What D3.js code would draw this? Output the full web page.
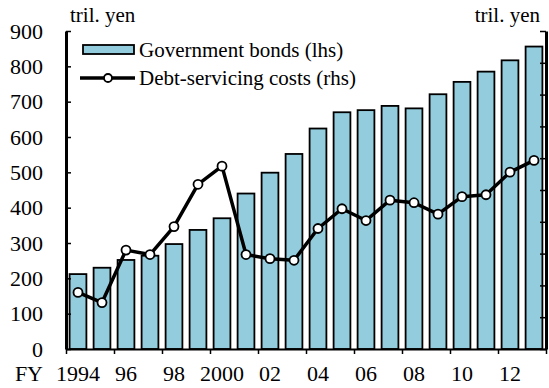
<!DOCTYPE html>
<html>
<head>
<meta charset="utf-8">
<script src="https://cdn.jsdelivr.net/npm/d3@7"></script>
<style>
  body { margin: 0; background: #fff; }
  svg { display: block; }
  text { font-family: "Liberation Serif", "Times New Roman", serif; fill: #000; }
</style>
</head>
<body>
<svg width="549" height="388"></svg>
<script>
// fiscal years
const years = [1994,1995,1996,1997,1998,1999,2000,2001,2002,2003,2004,2005,2006,2007,2008,2009,2010,2011,2012,2013];
// government bonds outstanding, tril. yen (lhs)
const bonds = [212,230,252,264,297,337,370,440,499,552,624,670,676,688,681,721,756,785,817,856];
// debt-servicing costs (rhs, scale labels not shown in the picture)
const debtCosts = [1.78,1.46,3.11,2.97,3.85,5.18,5.75,2.97,2.84,2.79,3.79,4.41,4.04,4.68,4.60,4.24,4.79,4.85,5.56,5.93];
const labelYears = [1994,1996,1998,2000,2002,2004,2006,2008,2010,2012];
const labelText = ["1994","96","98","2000","02","04","06","08","10","12"];
const leftTicks = [0,100,200,300,400,500,600,700,800,900];
const rightTicks = [0,1,2,3,4,5,6,7,8,9,10];

const svg = d3.select("svg");
const plotL = 66, plotR = 546, plotT = 31, plotB = 349;

const x = d3.scaleBand().domain(years).range([plotL, plotR]).paddingInner(0.3).paddingOuter(0.15);
const xi = d3.scaleLinear().domain([0, years.length]).range([plotL, plotR]);
const y = d3.scaleLinear().domain([0, 900]).range([plotB, plotT]);
const y2 = d3.scaleLinear().domain([0, 10]).range([plotB, plotT]);

// bars
svg.append("g").selectAll("rect")
  .data(years)
  .enter().append("rect")
  .attr("x", d => x(d))
  .attr("y", (d, i) => y(bonds[i]))
  .attr("width", x.bandwidth())
  .attr("height", (d, i) => plotB - y(bonds[i]))
  .attr("fill", "#93cddd")
  .attr("stroke", "#000")
  .attr("stroke-width", 1.8);

// x axis, ticks between every second year
const gx = svg.append("g")
  .attr("transform", `translate(0,${plotB})`)
  .call(d3.axisBottom(xi).tickValues(d3.range(0, years.length + 1, 2)).tickFormat("").tickSize(5).tickSizeOuter(0));
gx.select(".domain").attr("stroke-width", 2);
gx.selectAll(".tick line").attr("stroke-width", 1.5);

svg.append("g").selectAll("text")
  .data(labelYears)
  .enter().append("text")
  .attr("x", d => x(d) + x.bandwidth() / 2)
  .attr("y", 381)
  .attr("text-anchor", "middle")
  .style("font-size", "22px")
  .text((d, i) => labelText[i]);
svg.append("text").attr("x", 43).attr("y", 381).attr("text-anchor", "end")
  .style("font-size", "22px").text("FY");

// left axis
const gy = svg.append("g")
  .attr("transform", `translate(${plotL},0)`)
  .call(d3.axisLeft(y).tickValues(leftTicks).tickSize(-5).tickSizeOuter(0).tickPadding(23));
gy.select(".domain").attr("stroke-width", 3);
gy.selectAll(".tick line").attr("stroke-width", 1.5);
gy.selectAll(".tick text").style("font-size", "22px").style("font-family", "Liberation Serif, serif");

// right axis (labels fall outside the picture)
const gy2 = svg.append("g")
  .attr("transform", `translate(${plotR},0)`)
  .call(d3.axisRight(y2).tickValues(rightTicks).tickSize(-6).tickSizeOuter(0).tickFormat(""));
gy2.select(".domain").attr("stroke-width", 3);
gy2.selectAll(".tick line").attr("stroke-width", 1.5);

// unit labels
svg.append("text").attr("x", 70).attr("y", 22).style("font-size", "21px").text("tril. yen");
svg.append("text").attr("x", 540).attr("y", 22).attr("text-anchor", "end").style("font-size", "21px").text("tril. yen");

// debt-servicing line
const cx = (d, i) => x(years[i]) + x.bandwidth() / 2;
const line = d3.line().x(cx).y(d => y2(d));
svg.append("path")
  .datum(debtCosts)
  .attr("d", line)
  .attr("fill", "none")
  .attr("stroke", "#000")
  .attr("stroke-width", 3.5)
  .attr("stroke-linejoin", "round");
svg.append("g").selectAll("circle")
  .data(debtCosts)
  .enter().append("circle")
  .attr("cx", cx)
  .attr("cy", d => y2(d))
  .attr("r", 4.5)
  .attr("fill", "#fff")
  .attr("stroke", "#000")
  .attr("stroke-width", 1.8);

// legend
const lg = svg.append("g");
lg.append("rect").attr("x", 83).attr("y", 45).attr("width", 51).attr("height", 9)
  .attr("fill", "#93cddd").attr("stroke", "#000").attr("stroke-width", 1.8);
lg.append("text").attr("x", 139).attr("y", 57).style("font-size", "21px").text("Government bonds (lhs)");
lg.append("line").attr("x1", 80).attr("x2", 135).attr("y1", 78).attr("y2", 78)
  .attr("stroke", "#000").attr("stroke-width", 3.5);
lg.append("circle").attr("cx", 108).attr("cy", 78).attr("r", 4)
  .attr("fill", "#fff").attr("stroke", "#000").attr("stroke-width", 1.8);
lg.append("text").attr("x", 139).attr("y", 85).style("font-size", "21px").text("Debt-servicing costs (rhs)");
</script>
</body>
</html>
